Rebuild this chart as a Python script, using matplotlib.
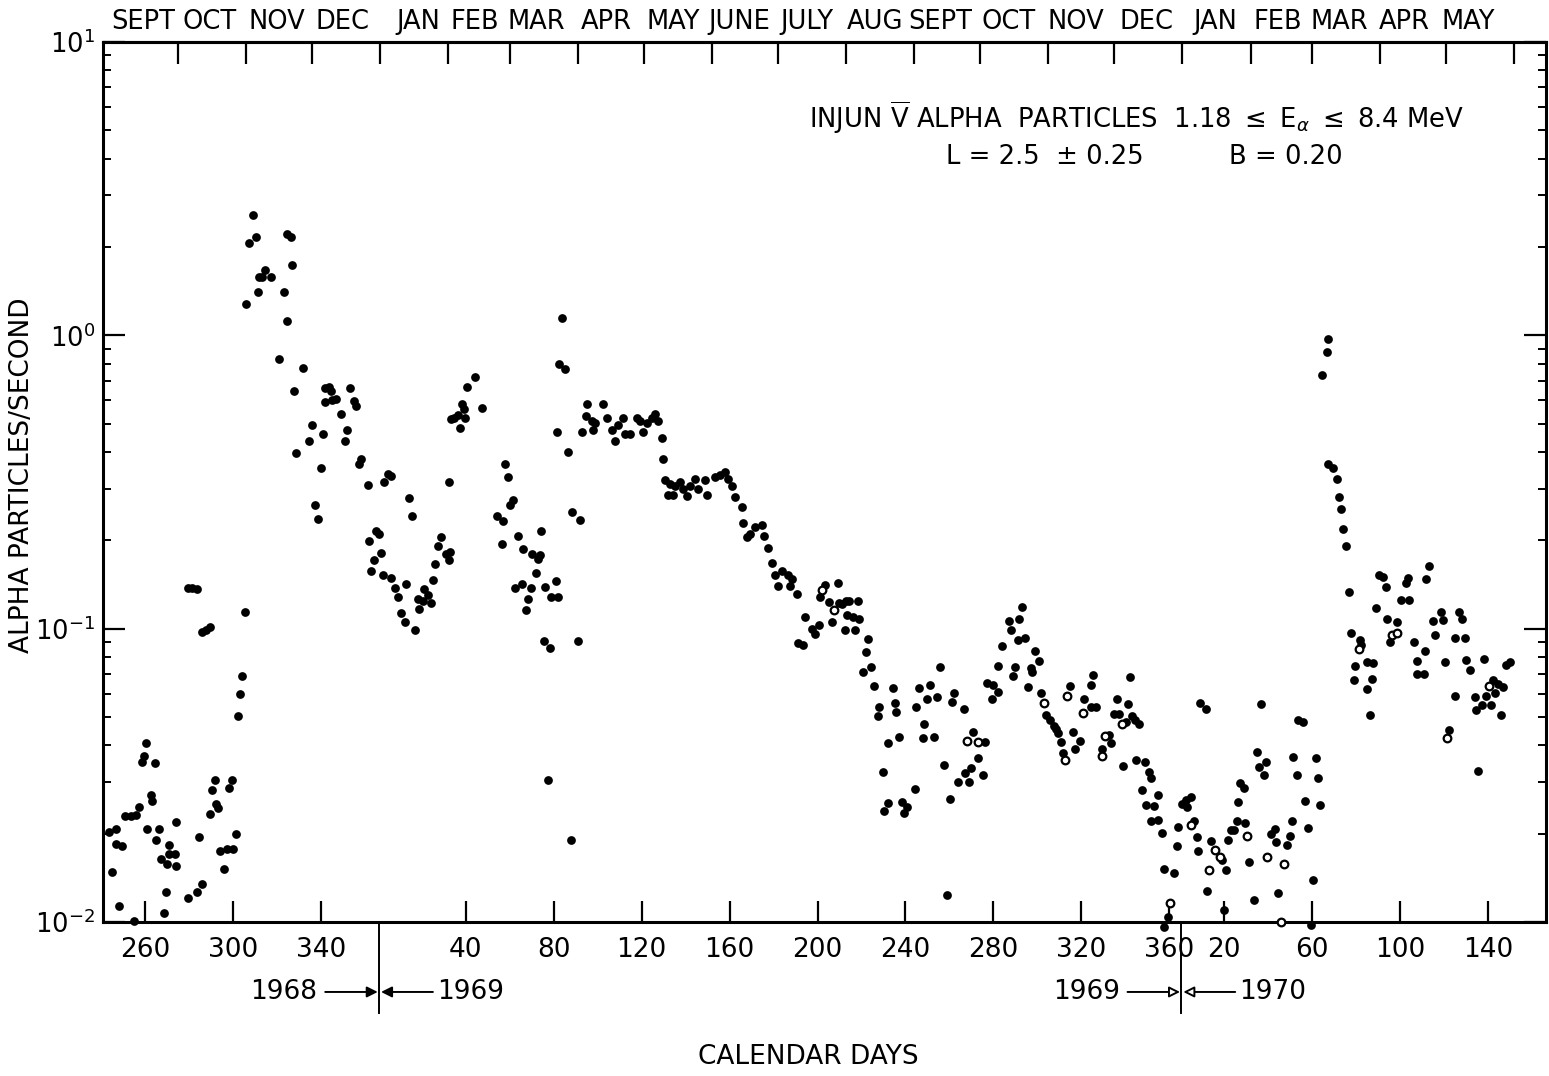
import numpy as np
import matplotlib
matplotlib.use("Agg")
import matplotlib.pyplot as plt
from matplotlib.ticker import LogLocator, NullFormatter
from matplotlib.transforms import blended_transform_factory

# ---------------- data (calendar day of year, alpha particles / second) -------------
days_1968 = [243.6, 245.1, 246.6, 246.6, 248.2, 249.4, 250.9, 253.5, 255.0, 255.7, 257.3,
             258.5, 259.5, 260.3, 260.8, 262.6, 263.3, 264.6, 264.9, 266.4, 267.1, 268.7,
             269.4, 270.2, 270.9, 270.9, 273.7, 274.0, 274.3, 279.7, 279.7, 281.6, 283.5,
             283.5, 284.6, 285.8, 286.1, 287.6, 289.4, 289.6, 290.7, 291.7, 292.2, 293.4,
             294.0, 296.0, 297.5, 298.3, 299.8, 300.2, 301.6, 302.5, 303.3, 304.3, 305.4,
             306.1, 307.1, 309.2, 310.4, 311.5, 311.9, 313.4, 314.6, 317.2, 321.0, 323.3,
             324.4, 324.8, 326.3, 326.8, 327.6, 328.6, 332.0, 334.7, 335.9, 337.4, 338.5,
             340.0, 341.1, 342.0, 342.0, 343.8, 344.6, 345.3, 346.8, 349.1, 350.9, 351.8,
             353.2, 355.2, 356.2, 357.2, 358.2, 361.3, 362.0, 362.8, 364.0, 365.0, 366.3]
rate_1968 = [0.0203, 0.0148, 0.0208, 0.0184, 0.0113, 0.0181, 0.0230, 0.0230, 0.0101, 0.0232, 0.0247,
             0.0351, 0.0368, 0.0408, 0.0208, 0.0271, 0.0259, 0.0348, 0.0190, 0.0208, 0.0164, 0.0107,
             0.0127, 0.0158, 0.0183, 0.0171, 0.0170, 0.0220, 0.0155, 0.0121, 0.138, 0.138, 0.137,
             0.0127, 0.0195, 0.0135, 0.0975, 0.0993, 0.101, 0.0234, 0.0282, 0.0304, 0.0253, 0.0245,
             0.0174, 0.0152, 0.0178, 0.0286, 0.0306, 0.0178, 0.0199, 0.0503, 0.0600, 0.0687, 0.114,
             1.28, 2.06, 2.58, 2.16, 1.40, 1.58, 1.58, 1.67, 1.58, 0.829, 1.40,
             1.12, 2.22, 2.16, 1.74, 0.645, 0.397, 0.776, 0.437, 0.495, 0.263, 0.236,
             0.352, 0.462, 0.660, 0.591, 0.667, 0.648, 0.602, 0.606, 0.539, 0.435, 0.474,
             0.660, 0.598, 0.574, 0.364, 0.380, 0.308, 0.199, 0.157, 0.172, 0.216, 0.211]

days_1969 = [1.3, 2.1, 2.8, 4.4, 5.9, 5.9, 7.9, 8.9, 10.7, 12.4, 12.7, 14.2, 15.7, 16.8, 18.0,
             18.8, 20.3, 21.1, 22.6, 24.1, 24.9, 25.9, 27.1, 28.6, 30.9, 32.1, 32.4, 32.7, 33.2,
             34.7, 36.2, 37.3, 38.1, 39.1, 39.6, 40.3, 44.1, 47.2, 54.3, 56.3, 57.0, 57.8, 59.3,
             60.1, 61.6, 62.3, 63.8, 65.4, 66.1, 67.3, 68.4, 69.5, 69.9, 71.9, 73.0, 73.7, 74.2,
             75.7, 76.0, 77.5, 78.3, 78.6, 80.8, 81.6, 82.1, 82.5, 83.9, 85.1, 86.6, 87.7, 88.1,
             91.2, 91.9, 92.7, 94.5, 95.0, 97.2, 98.0, 98.7, 102.2, 104.1, 106.3, 107.8, 109.4,
             111.6, 112.4, 114.7, 117.7, 119.2, 120.7, 122.3, 124.5, 126.0, 127.6, 129.1, 129.8,
             130.6, 132.1, 132.9, 134.4, 135.1, 137.4, 138.9, 140.5, 142.0, 144.2, 145.8, 148.8,
             149.6, 153.3, 155.6, 157.9, 159.4, 161.0, 162.5, 165.5, 166.2, 167.8, 169.3, 171.6,
             174.6, 175.4, 177.6, 179.1, 180.6, 182.2, 183.7, 186.7, 187.5, 188.2, 190.5, 191.3,
             193.5, 194.3, 197.3, 198.9, 200.7, 201.1, 203.3, 205.3, 206.5, 209.1, 209.8, 211.3,
             212.4, 212.9, 213.6, 214.4, 215.9, 217.0, 218.5, 219.0, 220.8, 222.0, 222.8, 224.3,
             225.5, 227.3, 228.1, 229.9, 230.4, 231.9, 232.2, 234.2, 235.3, 235.7, 237.0, 238.3,
             239.5, 240.8, 244.4, 244.9, 246.1, 247.9, 248.4, 249.9, 251.0, 252.8, 254.3, 255.5,
             257.5, 259.1, 260.1, 261.3, 262.1, 263.9, 266.5, 267.0, 268.9, 269.7, 270.7, 272.8,
             275.1, 276.1, 277.3, 279.2, 279.9, 281.9, 282.2, 284.0, 287.1, 288.0, 289.1, 289.8,
             291.1, 291.7, 293.2, 294.4, 295.6, 297.0, 297.5, 298.7, 300.8, 301.7, 304.0, 305.8,
             307.4, 308.4, 309.6, 310.7, 311.5, 315.0, 316.0, 317.3, 319.6, 321.4, 324.2, 324.2,
             325.2, 326.7, 329.5, 332.8, 333.3, 334.8, 336.3, 337.1, 339.1, 340.1, 341.3, 342.0,
             343.2, 344.4, 345.0, 346.2, 347.4, 349.0, 349.3, 350.8, 351.6, 351.6, 353.1, 354.7,
             355.1, 356.6, 357.4, 357.7, 359.2, 362.3, 363.4, 364.2]
rate_1969 = [0.181, 0.152, 0.316, 0.337, 0.332, 0.149, 0.138, 0.128, 0.113, 0.105, 0.142, 0.278, 0.242, 0.0986, 0.126,
             0.117, 0.124, 0.137, 0.130, 0.122, 0.146, 0.166, 0.191, 0.206, 0.179, 0.172, 0.316, 0.182, 0.520,
             0.523, 0.535, 0.483, 0.585, 0.561, 0.523, 0.664, 0.722, 0.565, 0.242, 0.195, 0.233, 0.365, 0.328,
             0.263, 0.275, 0.138, 0.207, 0.142, 0.187, 0.116, 0.126, 0.138, 0.180, 0.155, 0.173, 0.178, 0.215,
             0.0908, 0.139, 0.0304, 0.0857, 0.128, 0.145, 0.468, 0.128, 0.801, 1.15, 0.768, 0.401, 0.0190, 0.249,
             0.0908, 0.235, 0.470, 0.531, 0.585, 0.509, 0.474, 0.501, 0.585, 0.523, 0.474, 0.436, 0.494,
             0.523, 0.461, 0.461, 0.523, 0.509, 0.468, 0.501, 0.523, 0.538, 0.509, 0.445, 0.379,
             0.320, 0.286, 0.311, 0.286, 0.307, 0.316, 0.299, 0.284, 0.307, 0.325, 0.299, 0.321,
             0.286, 0.330, 0.334, 0.343, 0.325, 0.307, 0.282, 0.260, 0.229, 0.205, 0.210, 0.222,
             0.225, 0.207, 0.188, 0.168, 0.152, 0.140, 0.157, 0.152, 0.140, 0.148, 0.131, 0.0894,
             0.0882, 0.110, 0.100, 0.096, 0.103, 0.128, 0.141, 0.123, 0.105, 0.143, 0.122, 0.121,
             0.0989, 0.124, 0.111, 0.124, 0.110, 0.0989, 0.124, 0.108, 0.0713, 0.0834, 0.0921, 0.0738,
             0.0637, 0.0505, 0.0542, 0.0324, 0.0239, 0.0255, 0.0408, 0.0629, 0.0556, 0.0521, 0.0428, 0.0257,
             0.0235, 0.0247, 0.0283, 0.0542, 0.0627, 0.0423, 0.0473, 0.0574, 0.0643, 0.0428, 0.0584, 0.0741,
             0.0343, 0.0124, 0.0262, 0.0561, 0.0605, 0.0301, 0.0532, 0.0321, 0.0301, 0.0334, 0.0446, 0.0362,
             0.0317, 0.0412, 0.0655, 0.0574, 0.0643, 0.0746, 0.0610, 0.0873, 0.106, 0.0989, 0.0690, 0.0741,
             0.0914, 0.108, 0.119, 0.0926, 0.0634, 0.0733, 0.0710, 0.0841, 0.0778, 0.0605, 0.0506, 0.0488,
             0.0467, 0.0454, 0.0440, 0.0412, 0.0376, 0.0639, 0.0446, 0.0388, 0.0415, 0.0574, 0.0539, 0.0643,
             0.0695, 0.0539, 0.0388, 0.0434, 0.0408, 0.0512, 0.0574, 0.0512, 0.0341, 0.0482, 0.0553, 0.0682,
             0.0503, 0.0488, 0.0357, 0.0473, 0.0282, 0.0352, 0.0250, 0.0325, 0.0309, 0.0221, 0.0249, 0.0223,
             0.0271, 0.0201, 0.0152, 0.0096, 0.0104, 0.0147, 0.0182, 0.0211]

days_1970 = [0.9, 2.4, 3.2, 4.7, 6.2, 7.8, 8.1, 9.0, 11.6, 12.0, 13.9, 19.2, 20.0, 20.8, 21.5,
             23.1, 24.6, 25.7, 26.4, 27.3, 28.9, 29.6, 31.5, 33.5, 34.8, 35.7, 36.8, 37.9, 38.8,
             41.1, 42.9, 43.7, 44.5, 48.7, 50.1, 50.9, 51.3, 53.2, 53.6, 55.9, 56.7, 57.9, 59.4,
             60.5, 61.6, 62.8, 63.6, 64.6, 66.6, 67.4, 67.4, 69.7, 71.2, 72.0, 73.2, 74.0, 75.3,
             76.9, 77.6, 78.9, 79.3, 81.9, 82.4, 85.0, 85.0, 86.5, 87.3, 87.8, 89.1, 90.3, 92.2,
             93.7, 94.2, 95.2, 98.7, 100.6, 102.6, 103.8, 104.0, 106.4, 107.5, 107.9, 111.0, 111.4,
             112.0, 113.3, 115.1, 116.0, 118.6, 119.4, 120.5, 122.1, 124.8, 125.2, 127.0, 128.2,
             129.6, 130.1, 131.6, 133.9, 134.7, 135.4, 137.4, 138.1, 139.3, 141.6, 142.4, 143.1,
             144.7, 145.7, 147.0, 148.1, 150.0]
rate_1970 = [0.0253, 0.0261, 0.0246, 0.0267, 0.0221, 0.0195, 0.0175, 0.0558, 0.0533, 0.0128, 0.0189, 0.0163, 0.0110, 0.0150, 0.0190,
             0.0206, 0.0206, 0.0221, 0.0257, 0.0297, 0.0286, 0.0218, 0.0160, 0.0119, 0.0380, 0.0338, 0.0555, 0.0316, 0.0351,
             0.0199, 0.0208, 0.0187, 0.0126, 0.0183, 0.0196, 0.0221, 0.0365, 0.0318, 0.0490, 0.0479, 0.0259, 0.0209, 0.0098,
             0.0139, 0.0362, 0.0309, 0.0251, 0.733, 0.878, 0.970, 0.364, 0.353, 0.325, 0.282, 0.255, 0.219, 0.192,
             0.133, 0.0964, 0.0670, 0.0745, 0.0916, 0.0881, 0.0768, 0.0621, 0.0509, 0.0676, 0.0761, 0.118, 0.152, 0.150,
             0.139, 0.108, 0.0899, 0.105, 0.125, 0.143, 0.149, 0.125, 0.0899, 0.0701, 0.0773, 0.0701, 0.0841,
             0.148, 0.163, 0.106, 0.0955, 0.114, 0.107, 0.0768, 0.0451, 0.0588, 0.0927, 0.114, 0.108,
             0.0929, 0.0784, 0.0722, 0.0584, 0.0528, 0.0328, 0.0550, 0.0787, 0.0588, 0.0550, 0.0670, 0.0605,
             0.0650, 0.0509, 0.0631, 0.0749, 0.0768]

# open-circle points
open_days_1969 = [202.2, 207.5, 268.0, 273.1, 303.0, 312.7, 313.5, 320.8, 329.2, 330.7, 338.6, 360.2]
open_rate_1969 = [0.135, 0.116, 0.0414, 0.0412, 0.0556, 0.0357, 0.0589, 0.0514, 0.0368, 0.0431, 0.0473, 0.0116]
open_days_1970 = [4.7, 13.1, 15.7, 18.2, 30.4, 39.6, 46.0, 47.1, 81.2, 96.4, 98.7, 121.2, 140.5]
open_rate_1970 = [0.0214, 0.0150, 0.0176, 0.0166, 0.0196, 0.0166, 0.0100, 0.0158, 0.0854, 0.0950, 0.0964, 0.0425, 0.0640]

# axis ticks (calendar days)
ticks_1968 = [260, 300, 340]
ticks_1969 = [40, 80, 120, 160, 200, 240, 280, 320, 360]
ticks_1970 = [20, 60, 100, 140]

# month boundaries (top ticks) and month names with the day where each name sits
month_start_1968 = [275, 306, 336]
month_start_1969 = [1, 32, 60, 91, 121, 152, 182, 213, 244, 274, 305, 335]
month_start_1970 = [1, 32, 60, 91, 121, 152]
month_names_1968 = ["SEPT", "OCT", "NOV", "DEC"]
month_label_day_1968 = [259.0, 289.5, 320.0, 350.0]
month_names_1969 = ["JAN", "FEB", "MAR", "APR", "MAY", "JUNE", "JULY", "AUG", "SEPT", "OCT", "NOV", "DEC"]
month_label_day_1969 = [18.5, 44.0, 72.0, 104.0, 134.5, 164.5, 195.0, 226.0, 256.0, 287.0, 317.5, 349.5]
month_names_1970 = ["JAN", "FEB", "MAR", "APR", "MAY"]
month_label_day_1970 = [16.0, 44.5, 72.5, 102.0, 131.0]

# year offsets onto one continuous day axis (1968 is a leap year)
OFF = {1968: 0, 1969: 366, 1970: 731}

def cont(days, year):
    return np.asarray(days, dtype=float) + OFF[year]

FS = 19
plt.rcParams["font.family"] = ["DejaVu Sans"]
plt.rcParams["mathtext.fontset"] = "dejavusans"

fig = plt.figure(figsize=(15.49, 10.76), dpi=100)
ax = fig.add_axes([103 / 1549, 154 / 1076, 1443 / 1549, 880 / 1076])

for d, r, y in [(days_1968, rate_1968, 1968), (days_1969, rate_1969, 1969), (days_1970, rate_1970, 1970)]:
    ax.plot(cont(d, y), r, "o", color="black", ms=6.3, mew=0, clip_on=False, zorder=3)
for d, r, y in [(open_days_1969, open_rate_1969, 1969), (open_days_1970, open_rate_1970, 1970)]:
    ax.plot(cont(d, y), r, "o", mfc="white", mec="black", ms=5.5, mew=1.6, clip_on=False, zorder=3)

ax.set_yscale("log")
ax.set_ylim(0.01, 10)
ax.set_xlim(240.9, 897.4)

for s in ax.spines.values():
    s.set_linewidth(2.2)

# y axis
ax.set_yticks([0.01, 0.1, 1, 10])
ax.set_yticklabels([r"$10^{-2}$", r"$10^{-1}$", r"$10^{0}$", r"$10^{1}$"])
ax.yaxis.set_minor_locator(LogLocator(base=10, subs=np.arange(2, 10)))
ax.yaxis.set_minor_formatter(NullFormatter())
ax.tick_params(axis="y", which="major", direction="in", length=16, width=1.6,
               left=True, right=True, labelsize=18.5, pad=6)
ax.tick_params(axis="y", which="minor", direction="in", length=6, width=1.4,
               left=True, right=True)

# bottom x axis: calendar days
xt = list(cont(ticks_1968, 1968)) + list(cont(ticks_1969, 1969)) + list(cont(ticks_1970, 1970))
xl = [str(v) for v in ticks_1968 + ticks_1969 + ticks_1970]
ax.set_xticks(xt)
ax.set_xticklabels(xl)
ax.tick_params(axis="x", which="major", direction="in", length=15, width=1.6,
               top=False, labelsize=FS, pad=11)

# top axis: months
starts = list(cont(month_start_1968, 1968)) + list(cont(month_start_1969, 1969)) + list(cont(month_start_1970, 1970))
label_pos = (list(cont(month_label_day_1968, 1968)) + list(cont(month_label_day_1969, 1969))
             + list(cont(month_label_day_1970, 1970)))
names = month_names_1968 + month_names_1969 + month_names_1970
top = ax.secondary_xaxis("top")
top.set_xticks(starts, labels=[""] * len(starts))
top.set_xticks(label_pos, labels=names, minor=True)
top.tick_params(axis="x", which="major", direction="in", length=16, width=1.6)
top.tick_params(axis="x", which="minor", length=0, labelsize=18.5, pad=5)
top.spines["top"].set_linewidth(2.2)

# axis labels
ax.set_ylabel("ALPHA PARTICLES/SECOND", fontsize=FS)
ax.yaxis.set_label_coords(-0.047, 0.508)
ax.set_xlabel("CALENDAR DAYS", fontsize=FS)
ax.xaxis.set_label_coords(0.489, -0.139)

# annotation block
ax.text(0.7166, 0.9136,
        r"INJUN $\overline{\mathrm{V}}$ ALPHA  PARTICLES  1.18 $\leq$ $\mathrm{E}_{\alpha}$ $\leq$ 8.4 MeV",
        transform=ax.transAxes, ha="center", va="center", fontsize=18.6)
ax.text(0.653, 0.869, "L = 2.5  \u00b1 0.25", transform=ax.transAxes,
        ha="center", va="center", fontsize=18.6)
ax.text(0.820, 0.869, "B = 0.20", transform=ax.transAxes,
        ha="center", va="center", fontsize=18.6)

# year boundary markers
trans = blended_transform_factory(ax.transData, ax.transAxes)
for yr_end, y1, y2, face in [(OFF[1969] + 0.5, "1968", "1969", "black"),
                             (OFF[1970] + 0.5, "1969", "1970", "white")]:
    ax.plot([yr_end, yr_end], [0, -0.103], transform=trans, color="black", lw=1.4, clip_on=False)
    yy = -0.0795
    ax.annotate("", xy=(yr_end - 0.6, yy), xytext=(yr_end - 24.5, yy),
                xycoords=trans, textcoords=trans,
                arrowprops=dict(arrowstyle="-|>", lw=1.4, color="black", fc=face,
                                mutation_scale=16, shrinkA=0, shrinkB=0))
    ax.annotate("", xy=(yr_end + 0.9, yy), xytext=(yr_end + 24.5, yy),
                xycoords=trans, textcoords=trans,
                arrowprops=dict(arrowstyle="-|>", lw=1.4, color="black", fc=face,
                                mutation_scale=16, shrinkA=0, shrinkB=0))
    ax.text(yr_end - 28, yy, y1, transform=trans, ha="right", va="center", fontsize=FS)
    ax.text(yr_end + 26.5, yy, y2, transform=trans, ha="left", va="center", fontsize=FS)

fig.savefig("out.png", dpi=100)
